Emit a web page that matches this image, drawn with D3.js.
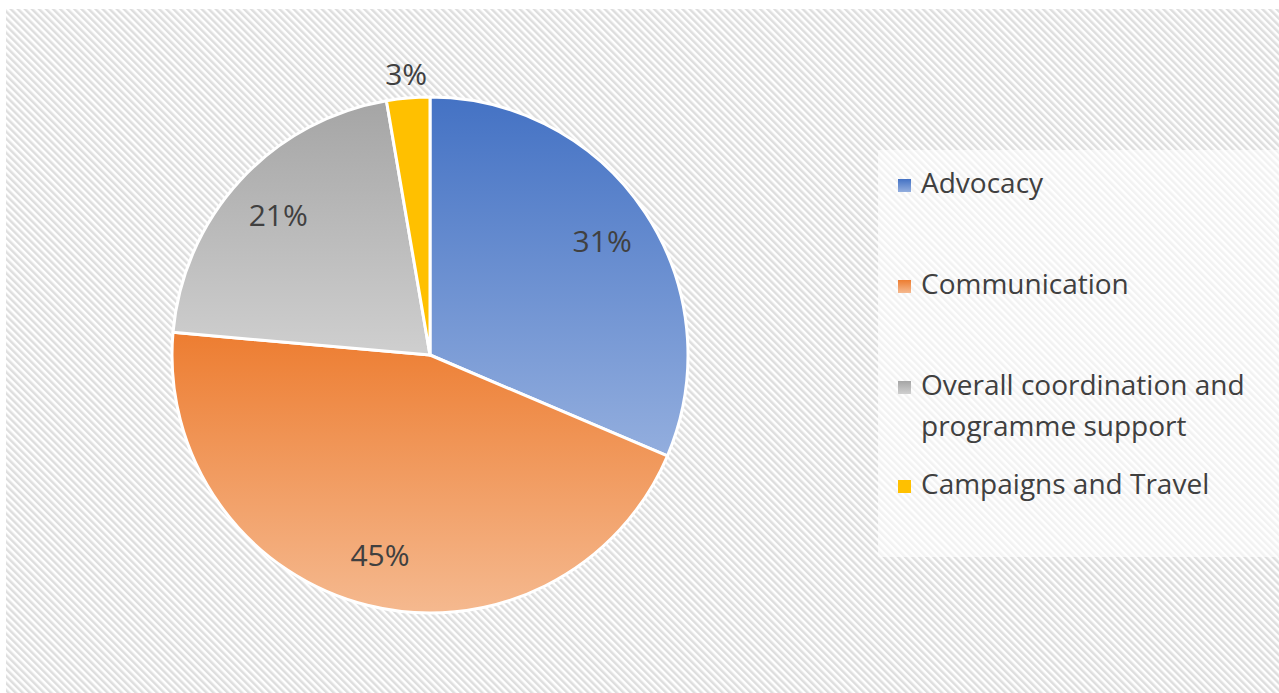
<!DOCTYPE html>
<html>
<head>
<meta charset="utf-8">
<script src="https://cdn.jsdelivr.net/npm/d3@7"></script>
<style>
  body { margin: 0; background: #fff; }
  text { font-family: "Open Sans", sans-serif; fill: #404040; }
</style>
</head>
<body>
<script>
// data
var categories = ["Advocacy", "Communication", "Overall coordination and programme support", "Campaigns and Travel"]
var legendLines = [["Advocacy"], ["Communication"], ["Overall coordination and", "programme support"], ["Campaigns and Travel"]]
var shares = [31.4, 45.0, 20.9, 2.7]

// colours: top and bottom of each slice's gradient
var topColors = ["#4472C4", "#ED7D31", "#A5A5A5", "#FFC000"]
var bottomColors = ["#93AEDE", "#F5B98F", "#CFCFCF", "#FFC000"]

var width = 1279, height = 693
var cx = 430, cy = 355, radius = 258

var svg = d3.select("body").append("svg")
  .attr("width", width)
  .attr("height", height)

var defs = svg.append("defs")

// hatched background, stripes running down to the right
var hatch = defs.append("pattern")
  .attr("id", "hatch")
  .attr("patternUnits", "userSpaceOnUse")
  .attr("width", 5)
  .attr("height", 5)
  .attr("patternTransform", "rotate(-45)")
hatch.append("rect").attr("width", 5).attr("height", 5).attr("fill", "#ffffff")
hatch.append("rect").attr("width", 2.5).attr("height", 5).attr("fill", "#dedede")

svg.append("rect")
  .attr("x", 6).attr("y", 9)
  .attr("width", width - 6).attr("height", height - 9)
  .attr("fill", "url(#hatch)")

// slice gradients
categories.forEach(function(c, i) {
  var g = defs.append("linearGradient")
    .attr("id", "grad" + i)
    .attr("x1", "0%").attr("y1", "0%")
    .attr("x2", "0%").attr("y2", "100%")
  g.append("stop").attr("offset", "0%").attr("stop-color", topColors[i])
  g.append("stop").attr("offset", "100%").attr("stop-color", bottomColors[i])
})

// pie
var pie = d3.pie().sort(null).value(function(d) { return d })
var arcs = pie(shares)
var arc = d3.arc().innerRadius(0).outerRadius(radius)
var labelArc = d3.arc().innerRadius(radius * 0.8).outerRadius(radius * 0.8)
var outerLabelArc = d3.arc().innerRadius(radius + 24).outerRadius(radius + 24)

var pieG = svg.append("g").attr("transform", "translate(" + cx + "," + cy + ")")

pieG.selectAll("path")
  .data(arcs)
  .enter().append("path")
  .attr("d", arc)
  .attr("fill", function(d, i) { return "url(#grad" + i + ")" })
  .attr("stroke", "#ffffff")
  .attr("stroke-width", 3)
  .attr("stroke-linejoin", "round")

pieG.selectAll("text.pct")
  .data(arcs)
  .enter().append("text")
  .attr("class", "pct")
  .attr("transform", function(d) {
    var p = d.data < 5 ? outerLabelArc.centroid(d) : labelArc.centroid(d)
    return "translate(" + p[0] + "," + p[1] + ")"
  })
  .attr("text-anchor", "middle")
  .attr("dy", "0.36em")
  .style("font-size", "30px")
  .text(function(d) { return Math.round(d.data) + "%" })

// legend
svg.append("rect")
  .attr("x", 878).attr("y", 150)
  .attr("width", width - 878).attr("height", 407)
  .attr("fill", "#ffffff")
  .attr("fill-opacity", 0.6)

var rowY = [193, 294, 395, 494]
var legend = svg.append("g")

categories.forEach(function(c, i) {
  var row = legend.append("g")
  row.append("rect")
    .attr("x", 898).attr("y", rowY[i] - 14)
    .attr("width", 13).attr("height", 13)
    .attr("fill", "url(#grad" + i + ")")
  legendLines[i].forEach(function(line, j) {
    row.append("text")
      .attr("x", 921)
      .attr("y", rowY[i] + j * 41)
      .style("font-size", "28px")
      .text(line)
  })
})
</script>
</body>
</html>
